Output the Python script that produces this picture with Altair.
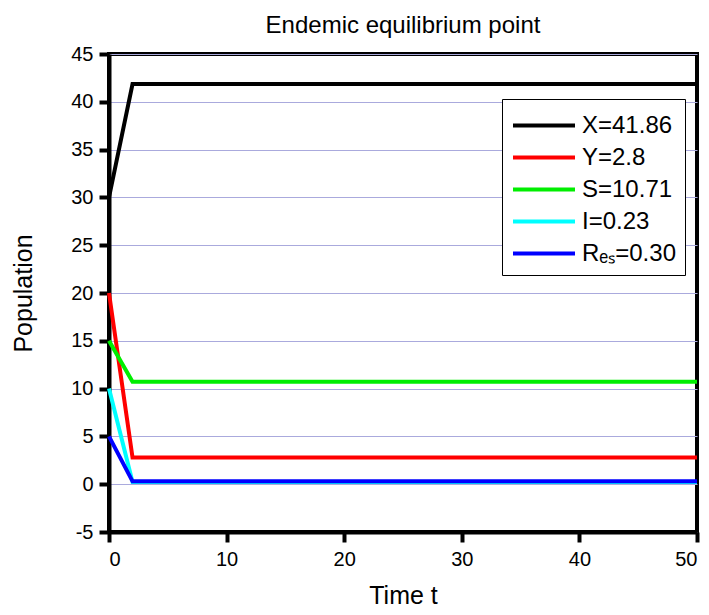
import altair as alt
import pandas as pd

# ---- data ----
time_t = [0, 2, 50]
series_labels = ["X=41.86", "Y=2.8", "S=10.71", "I=0.23", "Rₑₛ=0.30"]
x_vals = [30, 41.86, 41.86]
y_vals = [20, 2.8, 2.8]
s_vals = [15, 10.71, 10.71]
i_vals = [10, 0.23, 0.23]
r_vals = [5, 0.30, 0.30]
series_colors = ["#000000", "#ff0000", "#00ee00", "#00ffff", "#0000ff"]
x_ticks = [0, 10, 20, 30, 40, 50]
y_ticks = [-5, 0, 5, 10, 15, 20, 25, 30, 35, 40, 45]

rows = []
for k, (lab, vals) in enumerate(zip(series_labels, [x_vals, y_vals, s_vals, i_vals, r_vals])):
    for t, v in zip(time_t, vals):
        rows.append({"t": t, "value": v, "series": lab, "ord": k})
df = pd.DataFrame(rows)

FONT = "Liberation Sans"

axis_common = dict(
    domainColor="black", domainWidth=4, tickColor="black", tickWidth=4,
    tickSize=10, labelFontSize=20, labelFont=FONT, labelColor="black",
    titleFontSize=25, titleFont=FONT, titleFontWeight="normal", titleColor="black",
    labelExpr="datum.value + ''",
)

chart = alt.Chart(df).mark_line(strokeWidth=4).encode(
    x=alt.X(
        "t:Q",
        scale=alt.Scale(domain=[0, 50], nice=False, zero=False),
        axis=alt.Axis(values=x_ticks, title="Time t", grid=False, labelPadding=7,
                      titlePadding=14, **axis_common),
    ),
    y=alt.Y(
        "value:Q",
        scale=alt.Scale(domain=[-5, 45], nice=False, zero=False),
        axis=alt.Axis(values=y_ticks, title="Population", grid=True,
                      gridColor="#aaaadd", gridWidth=1, labelPadding=6,
                      titlePadding=34, **axis_common),
    ),
    color=alt.Color(
        "series:N",
        scale=alt.Scale(domain=series_labels, range=series_colors),
        legend=alt.Legend(
            title=None, orient="none", legendX=393, legendY=45,
            symbolType="M-1,0H3", symbolSize=961, symbolStrokeWidth=4,
            labelFontSize=24, labelFont=FONT, labelColor="black",
            strokeColor="black", fillColor="white", padding=9,
            rowPadding=2, labelOffset=36, symbolOpacity=1,
        ),
    ),
    order=alt.Order("ord:Q"),
).properties(
    width=588,
    height=478,
    title=alt.Title("Endemic equilibrium point", fontSize=24, font=FONT,
                    fontWeight="normal", color="black", offset=6, anchor="middle"),
    autosize=alt.AutoSizeParams(type="none"),
    padding={"left": 101, "top": 46, "right": 4, "bottom": 75},
).configure_view(
    stroke="black", strokeWidth=4
)

chart.save("out.html", embed_options={"renderer": "svg", "actions": False})
